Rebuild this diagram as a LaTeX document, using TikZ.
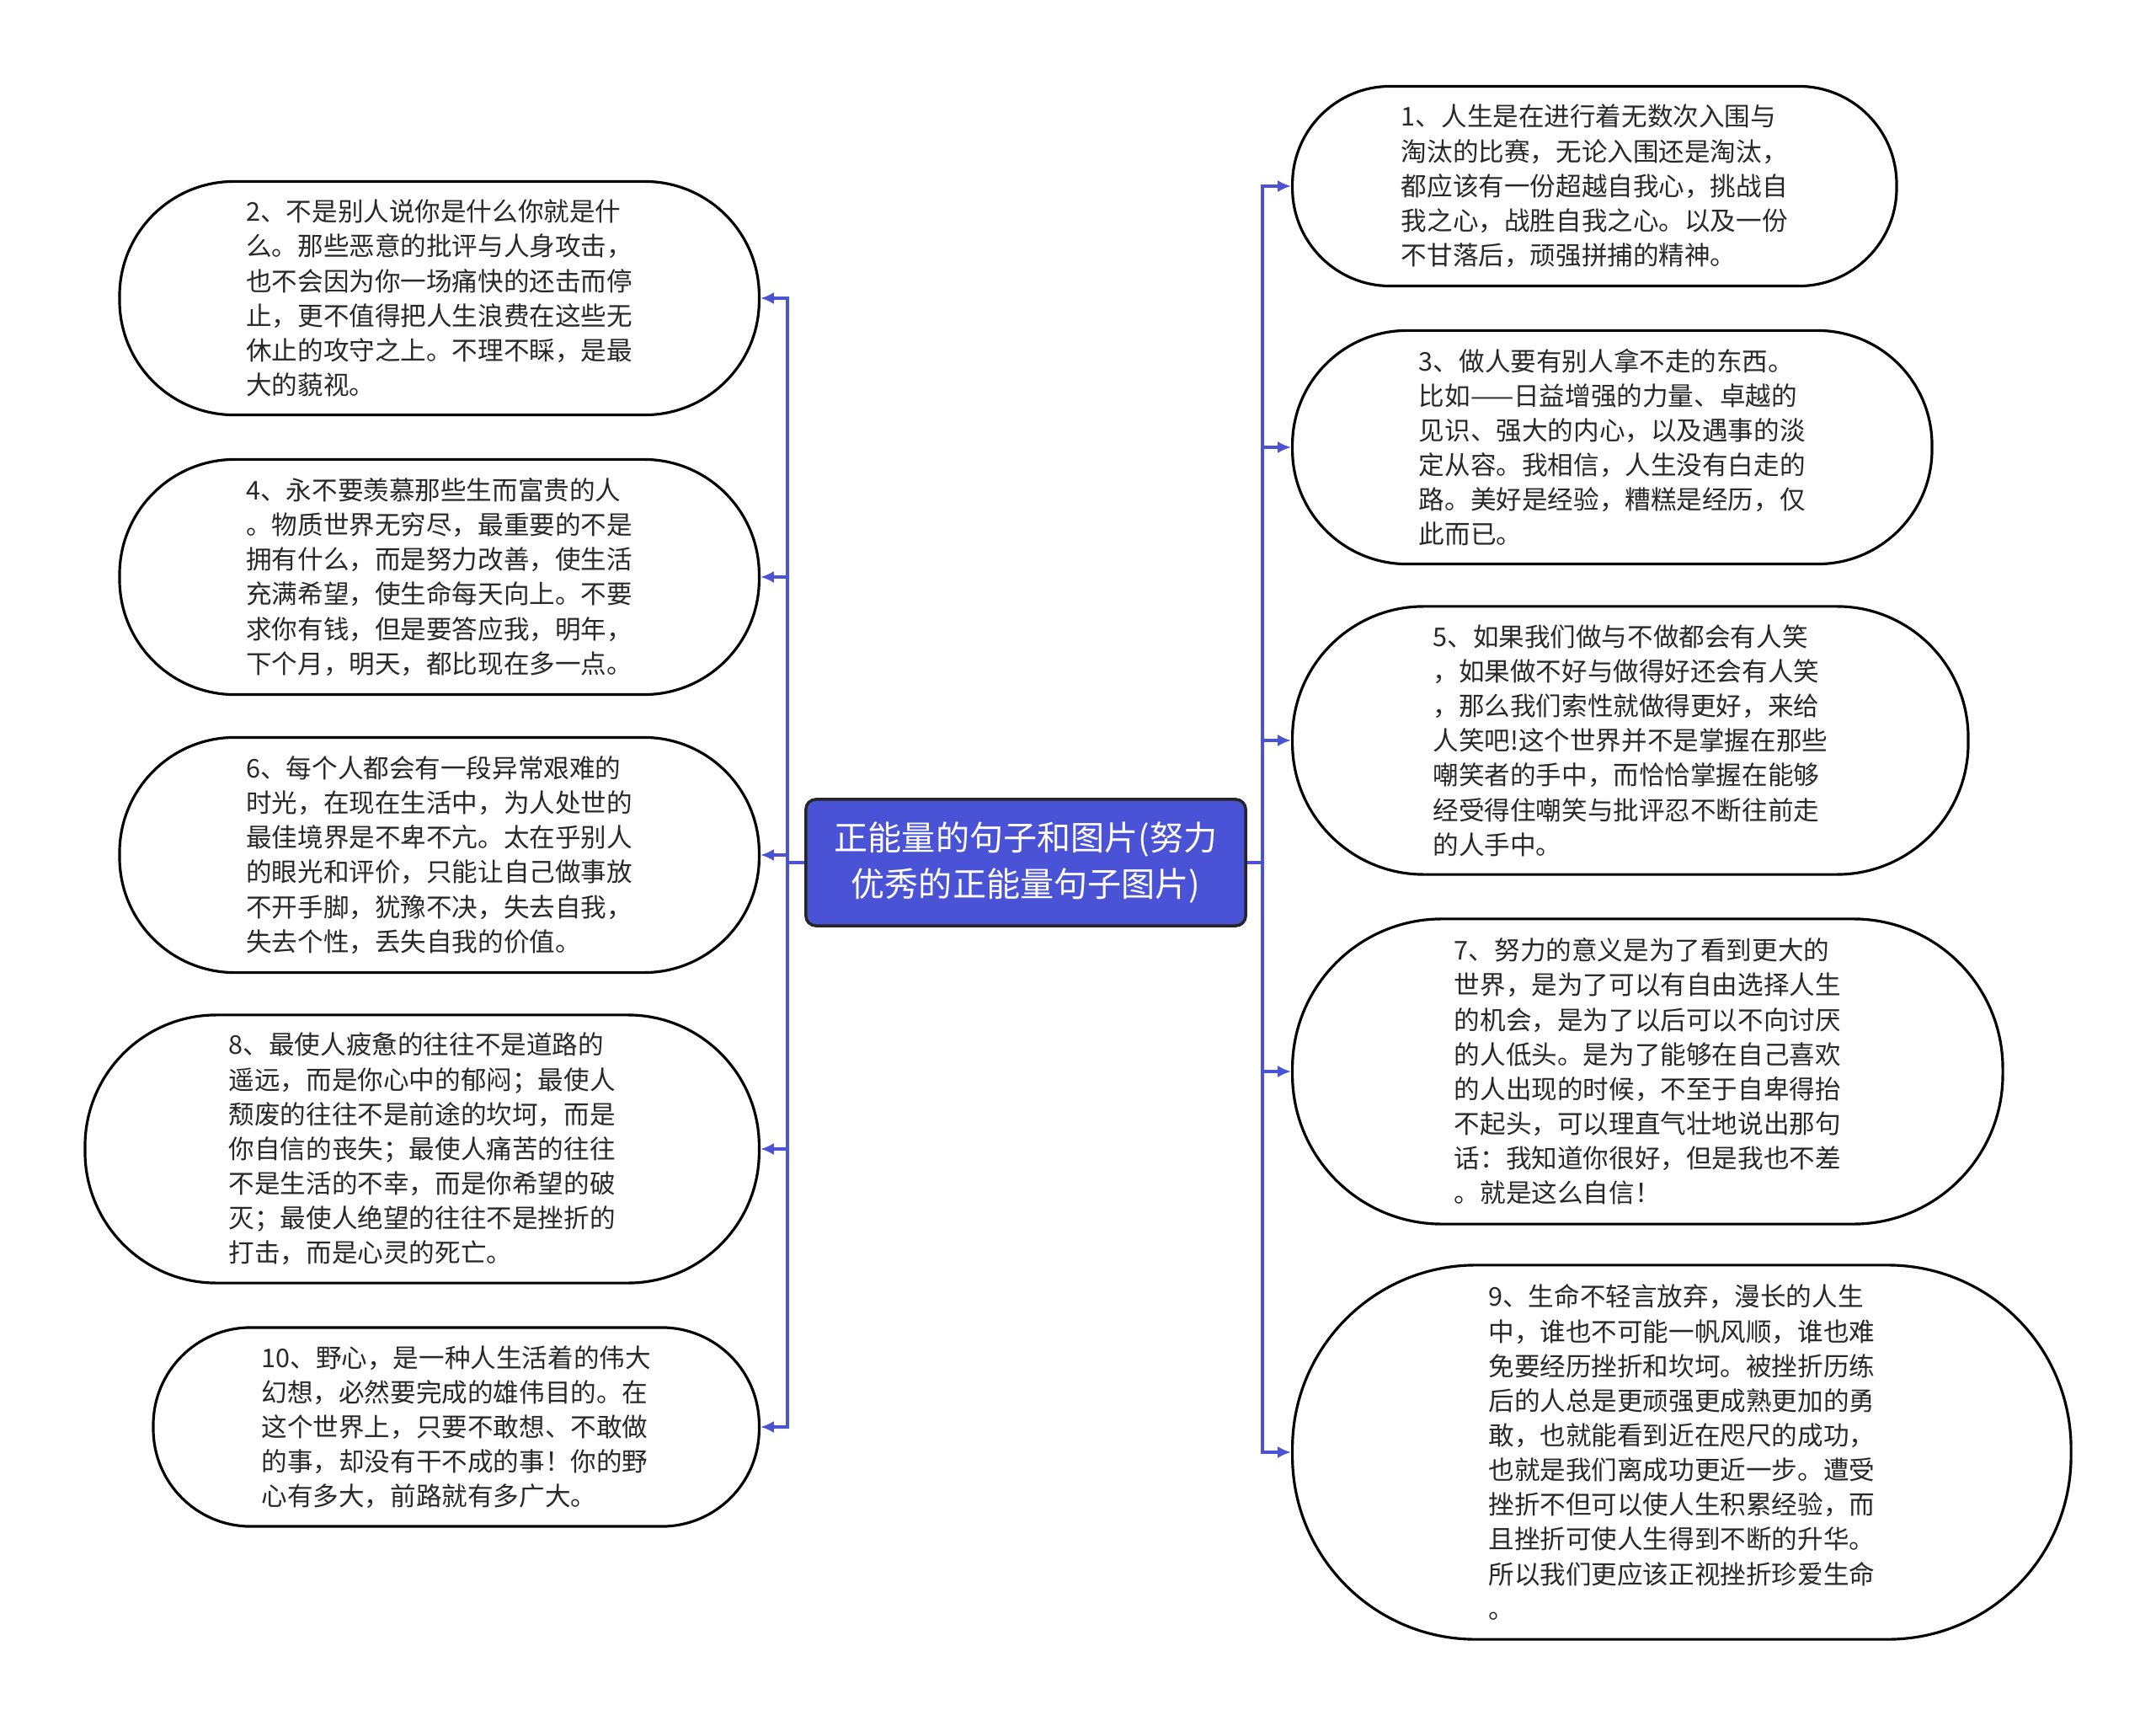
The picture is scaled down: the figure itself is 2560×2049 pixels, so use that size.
\documentclass[tikz,border=0pt]{standalone}
\usepackage{fontspec}
\newfontfamily\zhfont{Noto Sans CJK SC}
\usetikzlibrary{arrows.meta}
\definecolor{bleuNoeud}{RGB}{74,83,214}
\definecolor{texte}{RGB}{40,40,40}

\begin{document}
\begin{tikzpicture}[x=0.01cm, y=-0.01cm,
    bulle/.style 2 args={draw=black, line width=0.9pt, fill=white, text=texte,
      font=\zhfont\fontsize{8.7pt}{11.7pt}\selectfont, align=left, inner sep=0pt,
      minimum width=#1cm, minimum height=#2cm, rounded corners=#2*0.49cm},
    racine/.style={draw=black!85, line width=1pt, fill=bleuNoeud, text=white,
      font=\zhfont\fontsize{11.4pt}{15.8pt}\selectfont, align=center, inner sep=0pt,
      minimum width=5.22cm, minimum height=1.50cm, rounded corners=0.12cm},
    lien/.style={draw=bleuNoeud, line width=1.1pt},
    fleche/.style={lien, -{Latex[length=4.5pt,width=4pt]}}]
	\fill[white] (0,0) rectangle (2560,2049);
	%Noeud central
	\node[racine] (centre) at (1218,1024) {正能量的句子和图片(努力\\优秀的正能量句子图片)};
	%Branches de gauche
	\node[bulle={7.59}{2.77}, anchor=east] (L2) at (903,354) {2、不是别人说你是什么你就是什\\么。那些恶意的批评与人身攻击，\\也不会因为你一场痛快的还击而停\\止，更不值得把人生浪费在这些无\\休止的攻守之上。不理不睬，是最\\大的藐视。};
	\node[bulle={7.59}{2.79}, anchor=east] (L4) at (903,685) {4、永不要羡慕那些生而富贵的人\\。物质世界无穷尽，最重要的不是\\拥有什么，而是努力改善，使生活\\充满希望，使生命每天向上。不要\\求你有钱，但是要答应我，明年，\\下个月，明天，都比现在多一点。};
	\node[bulle={7.59}{2.79}, anchor=east] (L6) at (903,1015) {6、每个人都会有一段异常艰难的\\时光，在现在生活中，为人处世的\\最佳境界是不卑不亢。太在乎别人\\的眼光和评价，只能让自己做事放\\不开手脚，犹豫不决，失去自我，\\失去个性，丢失自我的价值。};
	\node[bulle={8.00}{3.18}, anchor=east] (L8) at (903,1364) {8、最使人疲惫的往往不是道路的\\遥远，而是你心中的郁闷；最使人\\颓废的往往不是前途的坎坷，而是\\你自信的丧失；最使人痛苦的往往\\不是生活的不幸，而是你希望的破\\灭；最使人绝望的往往不是挫折的\\打击，而是心灵的死亡。};
	\node[bulle={7.19}{2.36}, anchor=east] (L10) at (903,1694) {10、野心，是一种人生活着的伟大\\幻想，必然要完成的雄伟目的。在\\这个世界上，只要不敢想、不敢做\\的事，却没有干不成的事！你的野\\心有多大，前路就有多广大。};
	%Branches de droite
	\node[bulle={7.17}{2.37}, anchor=west] (R1) at (1533,221) {1、人生是在进行着无数次入围与\\淘汰的比赛，无论入围还是淘汰，\\都应该有一份超越自我心，挑战自\\我之心，战胜自我之心。以及一份\\不甘落后，顽强拼捕的精神。};
	\node[bulle={7.59}{2.77}, anchor=west] (R3) at (1533,531) {3、做人要有别人拿不走的东西。\\比如——日益增强的力量、卓越的\\见识、强大的内心，以及遇事的淡\\定从容。我相信，人生没有白走的\\路。美好是经验，糟糕是经历，仅\\此而已。};
	\node[bulle={8.02}{3.18}, anchor=west] (R5) at (1533,879) {5、如果我们做与不做都会有人笑\\，如果做不好与做得好还会有人笑\\，那么我们索性就做得更好，来给\\人笑吧!这个世界并不是掌握在那些\\嘲笑者的手中，而恰恰掌握在能够\\经受得住嘲笑与批评忍不断往前走\\的人手中。};
	\node[bulle={8.43}{3.62}, anchor=west] (R7) at (1533,1272) {7、努力的意义是为了看到更大的\\世界，是为了可以有自由选择人生\\的机会，是为了以后可以不向讨厌\\的人低头。是为了能够在自己喜欢\\的人出现的时候，不至于自卑得抬\\不起头，可以理直气壮地说出那句\\话：我知道你很好，但是我也不差\\。就是这么自信！};
	\node[bulle={9.24}{4.44}, anchor=west] (R9) at (1533,1724) {9、生命不轻言放弃，漫长的人生\\中，谁也不可能一帆风顺，谁也难\\免要经历挫折和坎坷。被挫折历练\\后的人总是更顽强更成熟更加的勇\\敢，也就能看到近在咫尺的成功，\\也就是我们离成功更近一步。遭受\\挫折不但可以使人生积累经验，而\\且挫折可使人生得到不断的升华。\\所以我们更应该正视挫折珍爱生命\\。};
	%Troncs
	\coordinate (tg) at (935,1024);
	\coordinate (td) at (1499,1024);
	\draw[lien] (centre.west) -- (tg);
	\draw[lien] (centre.east) -- (td);
	\draw[fleche] (tg) |- (L2.east);
	\draw[fleche] (tg) |- (L4.east);
	\draw[fleche] (tg) |- (L6.east);
	\draw[fleche] (tg) |- (L8.east);
	\draw[fleche] (tg) |- (L10.east);
	\draw[fleche] (td) |- (R1.west);
	\draw[fleche] (td) |- (R3.west);
	\draw[fleche] (td) |- (R5.west);
	\draw[fleche] (td) |- (R7.west);
	\draw[fleche] (td) |- (R9.west);
\end{tikzpicture}
\end{document}
